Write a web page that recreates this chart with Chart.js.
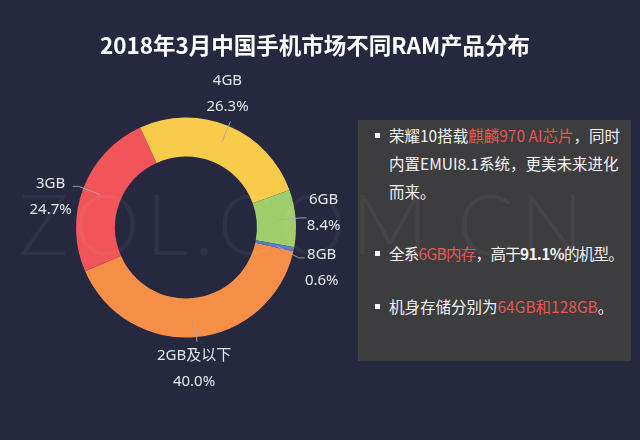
<!DOCTYPE html>
<html>
<head>
<meta charset="utf-8">
<script src="https://cdn.jsdelivr.net/npm/chart.js@4.4.1/dist/chart.umd.min.js"></script>
<style>
  html, body { margin: 0; padding: 0; background: #262840; }
  #wrap { position: relative; width: 640px; height: 440px; overflow: hidden; font-family: "Noto Sans CJK SC", "Noto Sans", sans-serif; }
  #title { position: absolute; left: 0; top: 28px; width: 630px; text-align: center; color: #fff; font-size: 22.5px; font-weight: bold; line-height: 32px; }
  #panel { position: absolute; left: 358px; top: 120px; width: 273px; height: 241px; background: #3d3d3f; color: #f2f2f2; font-size: 15.5px; }
  #panel ul { list-style: none; margin: 0; padding: 0; }
  #panel li { position: absolute; left: 31px; width: 240px; line-height: 28px; }
  #panel li.one { white-space: nowrap; width: auto; }
  #panel li.tight { letter-spacing: -0.7px; }
  #panel li:before { content: ""; position: absolute; left: -14px; top: 12px; width: 5px; height: 5px; background: #f2f2f2; }
  #panel .hl { color: #e4574f; }
  #mark { position: absolute; left: -16px; top: 178px; width: 640px; text-align: center; font-family: Lato, "DejaVu Sans", sans-serif; font-weight: 300; font-size: 84px; letter-spacing: 6px; line-height: 90px; color: rgba(255,255,255,0.045); pointer-events: none; }
  canvas { position: absolute; left: 0; top: 0; }
</style>
</head>
<body>
<div id="wrap">
  <canvas id="myChart" width="640" height="440"></canvas>
  <div id="title">2018年3月中国手机市场不同RAM产品分布</div>
  <div id="panel">
    <ul>
      <li style="top:1px">荣耀10搭载<span class="hl">麒麟970 AI芯片</span>，同时内置EMUI8.1系统，更美未来进化而来。</li>
      <li class="one tight" style="top:119px">全系<span class="hl">6GB内存</span>，高于<b>91.1%</b>的机型。</li>
      <li class="one" style="top:172px">机身存储分别为<span class="hl">64GB和128GB</span>。</li>
    </ul>
  </div>
  <div id="mark">ZOL.COM.CN</div>
</div>
<script>
var labels = ['2GB及以下', '3GB', '4GB', '6GB', '8GB'];
var shares = [40.0, 24.7, 26.3, 8.4, 0.6];
var colors = ['#f58f48', '#f1555a', '#f8cb4b', '#a0cd6b', '#5b7dc6'];

// outside labels with leader lines
var sliceLabels = {
  id: 'sliceLabels',
  afterDatasetsDraw: function(chart) {
    var ctx = chart.ctx;
    var arcs = chart.getDatasetMeta(0).data;
    var items = [];
    arcs.forEach(function(arc, i) {
      var p = arc.getProps(['x', 'y', 'startAngle', 'endAngle', 'innerRadius', 'outerRadius'], true);
      var mid = (p.startAngle + p.endAngle) / 2;
      var c = Math.cos(mid), s = Math.sin(mid);
      var r0 = (p.innerRadius + p.outerRadius) / 2 + 2;
      var r1 = p.outerRadius + 5;
      var it = {i: i, c: c, s: s, x0: p.x + c * r0, y0: p.y + s * r0, x1: p.x + c * r1, y1: p.y + s * r1};
      if (Math.abs(c) > 0.5) {
        it.side = c > 0 ? 1 : -1;
        it.cy = c > 0 ? it.y1 - 5 : it.y1 + 10;
      } else {
        it.side = 0;
        it.cy = s < 0 ? it.y1 - 28 : it.y1 + 27;
      }
      items.push(it);
    });
    // push overlapping side labels apart
    [1, -1].forEach(function(side) {
      var list = items.filter(function(it) { return it.side === side; }).sort(function(a, b) { return a.cy - b.cy; });
      for (var k = 1; k < list.length; k++) {
        if (list[k].cy - list[k - 1].cy < 55) list[k].cy = list[k - 1].cy + 55;
      }
    });
    ctx.save();
    ctx.strokeStyle = 'rgba(170,170,180,0.9)';
    ctx.lineWidth = 1;
    ctx.fillStyle = '#e6e6ea';
    ctx.font = '15px "Noto Sans", "Noto Sans CJK SC", sans-serif';
    ctx.textAlign = 'center';
    ctx.textBaseline = 'middle';
    items.forEach(function(it) {
      var ex = it.x1, ey = it.y1;
      if (it.side !== 0) ey = Math.min(Math.max(it.y1, it.cy - 10), it.cy + 15);
      ctx.beginPath();
      ctx.moveTo(it.x0, it.y0);
      ctx.lineTo(ex, ey);
      if (it.side !== 0) ctx.lineTo(ex + it.side * 6, ey);
      ctx.stroke();
      var tx = it.side === 0 ? it.x1 - 3 : it.x1 + it.side * 23;
      if (it.side === -1) tx -= 5;
      ctx.fillText(labels[it.i], tx, it.cy - 13);
      ctx.fillText(shares[it.i].toFixed(1) + '%', tx, it.cy + 13);
    });
    ctx.restore();
  }
};

var canvas = document.getElementById('myChart');
var chart = new Chart(canvas.getContext('2d'), {
  type: 'doughnut',
  data: {
    labels: labels,
    datasets: [{
      data: shares,
      backgroundColor: colors,
      borderWidth: 0
    }]
  },
  options: {
    responsive: false,
    animation: false,
    rotation: 102.5,
    cutout: '64.5%',
    layout: { padding: { left: 76, right: 344, top: 117, bottom: 102 } },
    plugins: {
      legend: { display: false },
      title: { display: false },
      tooltip: { enabled: false }
    }
  },
  plugins: [sliceLabels]
});
</script>
</body>
</html>
